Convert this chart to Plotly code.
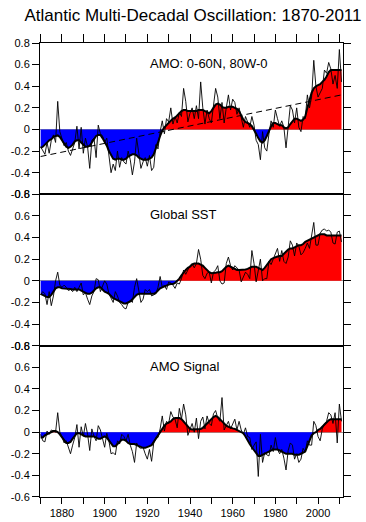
import numpy as np
import plotly.graph_objects as go
from plotly.subplots import make_subplots

years = list(range(1870, 2012))

# ---- Panel 1: AMO (0-60N, 80W-0) ----
amo_raw = [
    -0.16, -0.20, -0.23, -0.12, -0.22, -0.10, -0.05, -0.12, 0.26, -0.02,
    -0.08, -0.15, -0.12, -0.20, -0.24, -0.17, -0.12, 0.03, -0.18, 0.02,
    -0.22, -0.08, -0.16, -0.36, -0.10, -0.08, -0.26, 0.04, -0.04, -0.06,
    -0.12, -0.08, -0.22, -0.40, -0.32, -0.38, -0.20, -0.35, -0.26, -0.30,
    -0.32, -0.20, -0.28, -0.42, -0.30, -0.08, -0.22, -0.36, -0.30, -0.26,
    -0.34, -0.24, -0.38, -0.35, -0.14, -0.18, -0.02, 0.08, -0.04, 0.10,
    0.07, 0.20, 0.05, 0.12, 0.06, 0.16, 0.12, 0.38, 0.26, 0.07,
    0.15, 0.20, 0.10, 0.22, 0.10, 0.44, 0.20, 0.05, 0.18, 0.10,
    0.06, 0.25, 0.38, 0.30, 0.10, 0.25, 0.06, 0.20, 0.32, 0.18,
    0.28, 0.25, 0.14, 0.20, 0.10, 0.02, 0.12, 0.06, 0.02, 0.12,
    0.04, -0.10, -0.14, -0.28, -0.02, -0.17, -0.20, -0.04, 0.08, 0.02,
    0.18, 0.10, 0.03, 0.08, 0.02, -0.17, 0.00, 0.22, 0.18, 0.06,
    0.20, 0.02, -0.02, 0.12, 0.10, 0.32, 0.20, 0.30, 0.64, 0.40,
    0.30, 0.34, 0.38, 0.55, 0.52, 0.62, 0.56, 0.42, 0.50, 0.38,
    0.74, 0.44,
]
amo_smooth = [
    -0.17, -0.16, -0.14, -0.12, -0.10, -0.09, -0.07, -0.06, -0.055, -0.07,
    -0.10, -0.13, -0.16, -0.17, -0.16, -0.14, -0.11, -0.10, -0.10, -0.12,
    -0.14, -0.16, -0.16, -0.15, -0.12, -0.09, -0.06, -0.05, -0.05, -0.08,
    -0.11, -0.15, -0.20, -0.24, -0.27, -0.28, -0.27, -0.27, -0.28, -0.28,
    -0.27, -0.25, -0.24, -0.23, -0.23, -0.24, -0.26, -0.27, -0.28, -0.28,
    -0.28, -0.27, -0.26, -0.23, -0.18, -0.12, -0.06, -0.01, 0.02, 0.04,
    0.06, 0.08, 0.10, 0.11, 0.13, 0.15, 0.17, 0.18, 0.18, 0.17,
    0.17, 0.17, 0.17, 0.17, 0.18, 0.18, 0.18, 0.17, 0.16, 0.15,
    0.17, 0.20, 0.23, 0.24, 0.23, 0.21, 0.20, 0.20, 0.21, 0.21,
    0.21, 0.20, 0.19, 0.17, 0.13, 0.09, 0.07, 0.06, 0.05, 0.03,
    0.00, -0.04, -0.08, -0.11, -0.12, -0.10, -0.06, -0.01, 0.03, 0.06,
    0.06, 0.05, 0.04, 0.04, 0.02, 0.01, 0.02, 0.05, 0.08, 0.10,
    0.10, 0.09, 0.08, 0.09, 0.12, 0.20, 0.28, 0.34, 0.38, 0.40,
    0.41, 0.42, 0.44, 0.46, 0.49, 0.53, 0.55, 0.55, 0.55, 0.55,
    0.55, 0.55,
]
trend_years = [1870, 2011]
trend_values = [-0.25, 0.32]

# ---- Panel 2: Global SST ----
sst_raw = [
    -0.13, -0.10, -0.12, -0.22, -0.10, -0.23, -0.14, 0.00, 0.08, -0.04,
    -0.06, -0.04, -0.06, -0.09, -0.08, -0.10, -0.06, -0.10, -0.06, -0.02,
    -0.13, -0.11, -0.17, -0.22, -0.14, -0.10, 0.02, 0.01, -0.10, -0.04,
    0.00, -0.03, -0.12, -0.16, -0.20, -0.10, -0.14, -0.20, -0.22, -0.25,
    -0.26, -0.20, -0.18, -0.20, -0.06, 0.02, -0.10, -0.20, -0.17, -0.08,
    -0.10, -0.08, -0.14, -0.13, -0.12, -0.06, 0.04, -0.06, -0.04, -0.08,
    -0.01, -0.02, -0.04, -0.07, -0.02, -0.03, 0.02, 0.10, 0.06, 0.10,
    0.14, 0.16, 0.12, 0.16, 0.29, 0.20, 0.05, 0.02, 0.07, 0.08,
    -0.02, 0.08, 0.10, 0.14, 0.00, -0.03, -0.02, 0.16, 0.22, 0.14,
    0.10, 0.14, 0.12, 0.10, -0.01, 0.04, 0.08, 0.06, 0.02, 0.28,
    0.16, -0.01, 0.10, 0.20, 0.00, 0.02, 0.02, 0.18, 0.15, 0.20,
    0.24, 0.30, 0.18, 0.28, 0.18, 0.16, 0.22, 0.37, 0.33, 0.23,
    0.35, 0.32, 0.24, 0.26, 0.30, 0.35, 0.30, 0.42, 0.54, 0.33,
    0.33, 0.44, 0.47, 0.48, 0.46, 0.47, 0.45, 0.35, 0.34, 0.45,
    0.46, 0.36,
]
sst_smooth = [
    -0.12, -0.13, -0.14, -0.15, -0.15, -0.13, -0.10, -0.07, -0.06, -0.06,
    -0.07, -0.07, -0.07, -0.075, -0.075, -0.08, -0.08, -0.08, -0.08, -0.09,
    -0.10, -0.11, -0.12, -0.12, -0.11, -0.09, -0.07, -0.06, -0.06, -0.08,
    -0.10, -0.11, -0.12, -0.14, -0.16, -0.17, -0.18, -0.19, -0.20, -0.21,
    -0.21, -0.20, -0.19, -0.17, -0.15, -0.13, -0.12, -0.12, -0.12, -0.12,
    -0.12, -0.12, -0.12, -0.12, -0.11, -0.09, -0.07, -0.06, -0.05, -0.04,
    -0.035, -0.03, -0.03, -0.02, 0.00, 0.02, 0.05, 0.08, 0.10, 0.12,
    0.13, 0.15, 0.16, 0.16, 0.16, 0.15, 0.14, 0.12, 0.10, 0.08,
    0.07, 0.07, 0.075, 0.08, 0.08, 0.09, 0.11, 0.13, 0.14, 0.13,
    0.12, 0.11, 0.10, 0.10, 0.10, 0.10, 0.105, 0.11, 0.12, 0.13,
    0.13, 0.13, 0.12, 0.11, 0.10, 0.12, 0.15, 0.18, 0.20, 0.21,
    0.22, 0.225, 0.23, 0.23, 0.25, 0.27, 0.29, 0.30, 0.30, 0.31,
    0.32, 0.33, 0.33, 0.34, 0.36, 0.37, 0.38, 0.39, 0.40, 0.41,
    0.42, 0.43, 0.43, 0.43, 0.42, 0.42, 0.42, 0.42, 0.42, 0.42,
    0.42, 0.42,
]

# ---- Panel 3: AMO Signal ----
sig_raw = [
    -0.02, -0.08, -0.09, 0.01, -0.02, 0.02, 0.01, 0.00, 0.18, 0.00,
    -0.04, -0.10, -0.08, -0.15, -0.20, -0.12, -0.05, 0.07, -0.14, 0.05,
    -0.04, 0.08, -0.02, -0.17, 0.03, -0.04, -0.08, 0.06, 0.02, -0.06,
    -0.14, -0.01, -0.08, -0.20, -0.19, -0.21, -0.08, -0.11, -0.02, -0.04,
    -0.08, -0.02, -0.12, -0.18, -0.28, -0.10, -0.14, -0.15, -0.14, -0.20,
    -0.25, -0.16, -0.27, -0.10, -0.05, -0.05, 0.03, 0.15, 0.01, 0.10,
    0.08, 0.19, 0.14, 0.12, 0.04, 0.22, 0.12, 0.26, 0.16, -0.03,
    0.02, 0.08, 0.00, 0.13, -0.06, 0.10, 0.14, 0.03, 0.15, 0.08,
    0.06, 0.17, 0.20, 0.13, 0.10, 0.32, 0.02, 0.06, 0.10, 0.03,
    0.08, 0.12, 0.02, 0.10, 0.02, -0.02, 0.04, -0.04, -0.05, -0.16,
    -0.12, -0.09, -0.41, -0.02, -0.28, -0.19, -0.21, -0.22, -0.12, -0.18,
    -0.05, -0.16, -0.20, -0.16, -0.24, -0.35, -0.17, -0.10, -0.12, -0.25,
    -0.20, -0.28, -0.25, -0.15, -0.18, -0.08, -0.12, -0.12, 0.10, 0.06,
    -0.04, -0.08, 0.03, 0.08, 0.10, 0.18, 0.16, 0.08, 0.18, -0.10,
    0.26, 0.10,
]
sig_smooth = [
    -0.05, -0.05, -0.03, -0.02, -0.01, 0.00, 0.01, 0.01, 0.00, -0.02,
    -0.05, -0.08, -0.10, -0.10, -0.09, -0.06, -0.03, -0.01, -0.01, -0.02,
    -0.03, -0.04, -0.04, -0.04, -0.04, -0.04, -0.05, -0.06, -0.06, -0.05,
    -0.04, -0.05, -0.08, -0.11, -0.13, -0.13, -0.11, -0.09, -0.07, -0.07,
    -0.08, -0.10, -0.11, -0.11, -0.11, -0.12, -0.13, -0.14, -0.145, -0.145,
    -0.14, -0.13, -0.12, -0.09, -0.05, -0.02, 0.01, 0.04, 0.06, 0.08,
    0.09, 0.10, 0.12, 0.13, 0.13, 0.13, 0.12, 0.10, 0.07, 0.05,
    0.03, 0.025, 0.025, 0.025, 0.025, 0.03, 0.04, 0.06, 0.08, 0.10,
    0.12, 0.14, 0.15, 0.14, 0.12, 0.10, 0.08, 0.06, 0.05, 0.04,
    0.035, 0.03, 0.02, 0.01, 0.00, -0.01, -0.04, -0.08, -0.11, -0.14,
    -0.17, -0.20, -0.22, -0.22, -0.21, -0.20, -0.19, -0.18, -0.17, -0.16,
    -0.16, -0.16, -0.17, -0.18, -0.19, -0.20, -0.20, -0.20, -0.20, -0.21,
    -0.21, -0.21, -0.20, -0.19, -0.18, -0.13, -0.07, -0.03, -0.01, 0.00,
    0.02, 0.03, 0.05, 0.07, 0.09, 0.11, 0.12, 0.12, 0.12, 0.12,
    0.12, 0.12,
]

panel_titles = ["AMO: 0-60N, 80W-0", "Global SST", "AMO Signal"]
main_title = "Atlantic Multi-Decadal Oscillation: 1870-2011"
ytick_vals = [-0.6, -0.4, -0.2, 0, 0.2, 0.4, 0.6, 0.8]
ytick_text = ["-0.6", "-0.4", "-0.2", "0", "0.2", "0.4", "0.6", "0.8"]
xtick_vals = list(range(1870, 2011, 10))
xtick_text = ["", "1880", "", "1900", "", "1920", "", "1940", "", "1960",
              "", "1980", "", "2000", ""]

FONT = "Liberation Sans, Arial, Helvetica, sans-serif"
W, H = 366, 532


def split_sign(x, y):
    """Insert zero crossings so fills meet the zero line cleanly."""
    x = np.asarray(x, float)
    y = np.asarray(y, float)
    xs, ys = [x[0]], [y[0]]
    for i in range(1, len(x)):
        if y[i - 1] * y[i] < 0:
            t = y[i - 1] / (y[i - 1] - y[i])
            xs.append(x[i - 1] + t * (x[i] - x[i - 1]))
            ys.append(0.0)
        xs.append(x[i])
        ys.append(y[i])
    xs = np.array(xs)
    ys = np.array(ys)
    return xs, np.maximum(ys, 0), np.minimum(ys, 0)


fig = make_subplots(rows=3, cols=1, shared_xaxes=True, vertical_spacing=0)

series = [(amo_raw, amo_smooth), (sst_raw, sst_smooth), (sig_raw, sig_smooth)]
for r, (raw, sm) in enumerate(series, start=1):
    xs, pos, neg = split_sign(years, sm)
    fig.add_trace(go.Scatter(x=xs, y=pos, mode="lines", fill="tozeroy",
                             fillcolor="#FF0000", line=dict(width=0, color="#FF0000"),
                             hoverinfo="skip", showlegend=False), row=r, col=1)
    fig.add_trace(go.Scatter(x=xs, y=neg, mode="lines", fill="tozeroy",
                             fillcolor="#0000FF", line=dict(width=0, color="#0000FF"),
                             hoverinfo="skip", showlegend=False), row=r, col=1)
    fig.add_trace(go.Scatter(x=years, y=raw, mode="lines",
                             line=dict(color="black", width=0.9),
                             showlegend=False), row=r, col=1)
    fig.add_trace(go.Scatter(x=years, y=sm, mode="lines",
                             line=dict(color="black", width=2),
                             showlegend=False), row=r, col=1)
    if r == 1:
        fig.add_trace(go.Scatter(x=trend_years, y=trend_values, mode="lines",
                                 line=dict(color="black", width=1, dash="6px,4px"),
                                 showlegend=False), row=r, col=1)
    fig.add_annotation(text=panel_titles[r - 1], x=1920.3, y=0.61,
                       xref=f"x{'' if r == 1 else r}", yref=f"y{'' if r == 1 else r}",
                       xanchor="left", yanchor="middle", showarrow=False,
                       font=dict(size=13, color="black", family=FONT))

for r in (1, 2, 3):
    fig.update_yaxes(row=r, col=1, range=[-0.6, 0.8], tickvals=ytick_vals,
                     ticktext=ytick_text, ticks="outside", ticklen=7,
                     tickcolor="black", tickwidth=1, showline=True,
                     linecolor="black", linewidth=1, mirror="ticks",
                     showgrid=False, zeroline=True, zerolinecolor="#9a9a9a",
                     zerolinewidth=1, ticklabelstandoff=0,
                     tickfont=dict(size=11, color="black", family=FONT))
    common = dict(range=[1869.7, 2011.7], tickvals=xtick_vals, ticktext=xtick_text,
                  showline=True, linecolor="black", linewidth=1, mirror=True,
                  showgrid=False, zeroline=False, tickcolor="black", tickwidth=1,
                  tickfont=dict(size=11, color="black", family=FONT))
    if r == 1:
        fig.update_xaxes(row=r, col=1, side="top", ticks="outside", ticklen=8,
                         showticklabels=False, **common)
    elif r == 2:
        fig.update_xaxes(row=r, col=1, ticks="", showticklabels=False, **common)
    else:
        fig.update_xaxes(row=r, col=1, ticks="outside", ticklen=6,
                         showticklabels=True, **common)

fig.update_layout(
    width=W, height=H,
    margin=dict(l=40, r=23, t=43, b=H - 497),
    paper_bgcolor="white", plot_bgcolor="white",
    font=dict(family=FONT, color="black"),
    title=dict(text=main_title, x=193.0 / W, xref="container",
               xanchor="center", y=1 - 15.5 / H, yref="container",
               yanchor="middle",
               font=dict(size=17, color="black", family=FONT)),
    showlegend=False,
)

# remove the browser's default 8px body margin so the figure sits at (0, 0)
page_fix = ("document.body.style.margin='0px';"
            "document.body.style.padding='0px';"
            "document.documentElement.style.overflow='hidden';")

fig.write_html("out.html", post_script=page_fix,
               config={"displayModeBar": False, "staticPlot": True})
